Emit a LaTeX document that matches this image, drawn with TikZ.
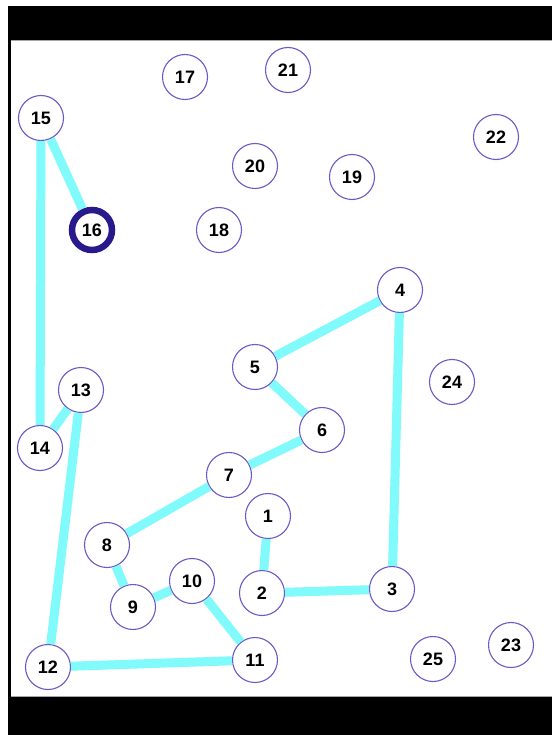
\documentclass[tikz,border=0pt]{standalone}
\usepackage{fontspec}
\setmainfont{Liberation Sans}
\newcommand{\numfont}{\fontsize{18pt}{18pt}\selectfont\bfseries}
\begin{document}
\begin{tikzpicture}[x=1pt,y=-1pt,
  vtx/.style={circle,draw={rgb,255:red,105;green,90;blue,200},line width=1.1pt,fill=white,minimum size=45pt,inner sep=0pt,font=\numfont},
  sel/.style={circle,draw={rgb,255:red,40;green,25;blue,140},line width=6.5pt,fill=white,minimum size=40pt,inner sep=0pt,font=\numfont},
  edge/.style={draw={rgb,255:red,128;green,250;blue,250},line width=9pt}]
\useasboundingbox (0,0) rectangle (552,735);
\fill[white] (0,0) rectangle (552,735);
\fill[black] (8,6) rectangle (552,40);
\fill[black] (8,697) rectangle (552,735);
\fill[black] (8,40) rectangle (11,697);
\draw[gray!70,line width=0.8pt] (11,40.5) -- (552,40.5);
\draw[gray!70,line width=0.8pt] (11,696.5) -- (552,696.5);
\node[vtx] (n1) at (268,516) {1};
\node[vtx] (n2) at (262,593) {2};
\node[vtx] (n3) at (392,589) {3};
\node[vtx] (n4) at (400,290) {4};
\node[vtx] (n5) at (255,367) {5};
\node[vtx] (n6) at (322,430) {6};
\node[vtx] (n7) at (229,475) {7};
\node[vtx] (n8) at (107,545) {8};
\node[vtx] (n9) at (133,607) {9};
\node[vtx] (n10) at (192,581) {10};
\node[vtx] (n11) at (255,660) {11};
\node[vtx] (n12) at (48,667) {12};
\node[vtx] (n13) at (81,390) {13};
\node[vtx] (n14) at (40,448) {14};
\node[vtx] (n15) at (41,118) {15};
\node[sel] (n16) at (92,230) {16};
\node[vtx] (n17) at (185,77) {17};
\node[vtx] (n18) at (219,230) {18};
\node[vtx] (n19) at (352,177) {19};
\node[vtx] (n20) at (255,166) {20};
\node[vtx] (n21) at (288,70) {21};
\node[vtx] (n22) at (496,137) {22};
\node[vtx] (n23) at (511,645) {23};
\node[vtx] (n24) at (452,382) {24};
\node[vtx] (n25) at (433,659) {25};
\path[edge] (n15) -- (n16);
\path[edge] (n15) -- (n14);
\path[edge] (n14) -- (n13);
\path[edge] (n13) -- (n12);
\path[edge] (n12) -- (n11);
\path[edge] (n11) -- (n10);
\path[edge] (n10) -- (n9);
\path[edge] (n9) -- (n8);
\path[edge] (n8) -- (n7);
\path[edge] (n7) -- (n6);
\path[edge] (n6) -- (n5);
\path[edge] (n5) -- (n4);
\path[edge] (n4) -- (n3);
\path[edge] (n3) -- (n2);
\path[edge] (n2) -- (n1);
\end{tikzpicture}
\end{document}
